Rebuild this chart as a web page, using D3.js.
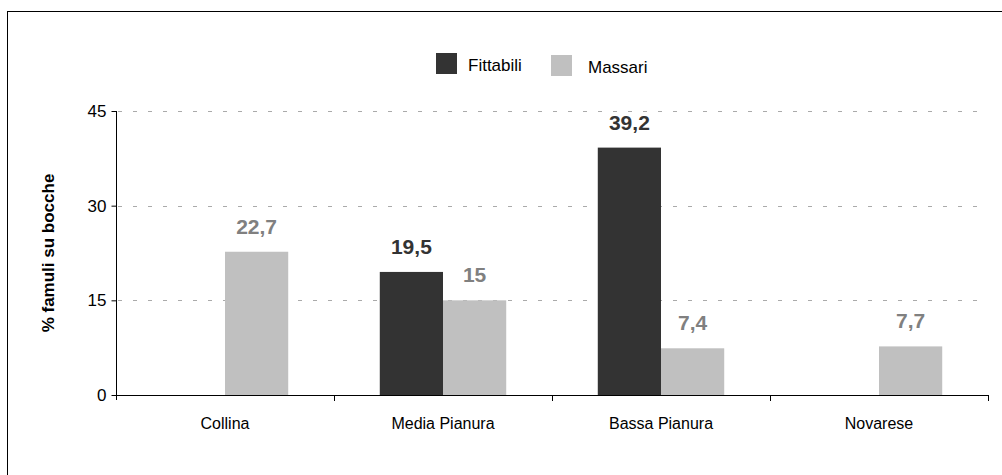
<!DOCTYPE html>
<html>
<head>
<meta charset="utf-8">
<script src="https://cdn.jsdelivr.net/npm/d3@7"></script>
<style>
  body { margin: 0; background: #fff; }
  svg { display: block; font-family: "Liberation Sans", Arial, sans-serif; }
</style>
</head>
<body>
<div id="chart"></div>
<script>
var width = 1002,
  height = 475;

var categories = ["Collina", "Media Pianura", "Bassa Pianura", "Novarese"];
var series = ["Fittabili", "Massari"];
var fittabili = [null, 19.5, 39.2, null];
var massari = [22.7, 15, 7.4, 7.7];
var yTicks = [0, 15, 30, 45];

var colors = { Fittabili: "#333333", Massari: "#c0c0c0" };
var labelColors = { Fittabili: "#333333", Massari: "#808080" };

var svg = d3.select("#chart")
  .append("svg")
  .attr("width", width)
  .attr("height", height);

// outer frame (runs off the page on the right/bottom)
svg.append("rect")
  .attr("x", 7.5).attr("y", 11.5)
  .attr("width", 1050).attr("height", 500)
  .attr("fill", "none")
  .attr("stroke", "#000")
  .attr("stroke-width", 1);

var x = d3.scaleBand()
  .domain(categories)
  .range([116, 988])
  .paddingInner(0.42)
  .paddingOuter(0.21);

var xs = d3.scaleBand()
  .domain(series)
  .range([0, x.bandwidth()]);

var y = d3.scaleLinear()
  .domain([0, 45])
  .range([395, 111]);

// grid
svg.append("g")
  .selectAll("line")
  .data(yTicks.filter(function (d) { return d > 0; }))
  .enter().append("line")
  .attr("x1", 118).attr("x2", 988)
  .attr("y1", function (d) { return Math.round(y(d)) + 0.5; })
  .attr("y2", function (d) { return Math.round(y(d)) + 0.5; })
  .attr("stroke", "#aaaaaa")
  .attr("stroke-width", 1)
  .attr("stroke-dasharray", "4,11");

// bars
var rows = [];
categories.forEach(function (c, i) {
  rows.push({ cat: c, s: "Fittabili", v: fittabili[i] });
  rows.push({ cat: c, s: "Massari", v: massari[i] });
});
rows = rows.filter(function (d) { return d.v != null; });

svg.append("g")
  .selectAll("rect")
  .data(rows)
  .enter().append("rect")
  .attr("x", function (d) { return x(d.cat) + xs(d.s); })
  .attr("width", xs.bandwidth())
  .attr("y", function (d) { return y(d.v); })
  .attr("height", function (d) { return y(0) - y(d.v); })
  .attr("fill", function (d) { return colors[d.s]; });

// value labels
var fmt = function (v) { return String(v).replace(".", ","); };
svg.append("g")
  .selectAll("text")
  .data(rows)
  .enter().append("text")
  .attr("x", function (d) { return x(d.cat) + xs(d.s) + xs.bandwidth() / 2; })
  .attr("y", function (d) { return y(d.v) - 18; })
  .attr("text-anchor", "middle")
  .attr("font-size", 21)
  .attr("font-weight", "bold")
  .attr("fill", function (d) { return labelColors[d.s]; })
  .text(function (d) { return fmt(d.v); });

// y axis
var yAxis = svg.append("g")
  .attr("transform", "translate(116.5,0)")
  .call(d3.axisLeft(y).tickValues(yTicks).tickSize(5).tickPadding(5));
yAxis.selectAll("text").attr("font-size", 17).attr("fill", "#000").attr("font-family", "Liberation Sans, Arial, sans-serif");
yAxis.select(".domain").attr("d", "M0," + y(45) + "V" + (y(0) + 5));

// x axis
var xg = svg.append("g");
xg.append("line")
  .attr("x1", 116).attr("x2", 988.5)
  .attr("y1", 395.5).attr("y2", 395.5)
  .attr("stroke", "#000");
var bounds = categories.map(function (c) { return x(c) - x.step() * x.paddingInner() / 2; });
bounds.push(988);
xg.selectAll(".tk")
  .data(bounds.slice(1))
  .enter().append("line")
  .attr("x1", function (d) { return Math.round(d) + 0.5; })
  .attr("x2", function (d) { return Math.round(d) + 0.5; })
  .attr("y1", 395).attr("y2", 401)
  .attr("stroke", "#000");
xg.selectAll(".lb")
  .data(categories)
  .enter().append("text")
  .attr("x", function (d) { return x(d) + x.bandwidth() / 2; })
  .attr("y", 429)
  .attr("text-anchor", "middle")
  .attr("font-size", 16)
  .text(function (d) { return d; });

// y title
svg.append("text")
  .attr("transform", "translate(54,253) rotate(-90)")
  .attr("text-anchor", "middle")
  .attr("font-size", 17)
  .attr("font-weight", "bold")
  .text("% famuli su bocche");

// legend
var legend = [
  { s: "Fittabili", x: 436, y: 53 },
  { s: "Massari", x: 551, y: 55 }
];
var lg = svg.append("g").selectAll("g").data(legend).enter().append("g");
lg.append("rect")
  .attr("x", function (d) { return d.x; })
  .attr("y", function (d) { return d.y; })
  .attr("width", 21).attr("height", 21)
  .attr("fill", function (d) { return colors[d.s]; });
lg.append("text")
  .attr("x", function (d) { return d.s == "Fittabili" ? 468 : 588; })
  .attr("y", function (d) { return d.y + 18; })
  .attr("font-size", 17)
  .text(function (d) { return d.s; });
</script>
</body>
</html>
